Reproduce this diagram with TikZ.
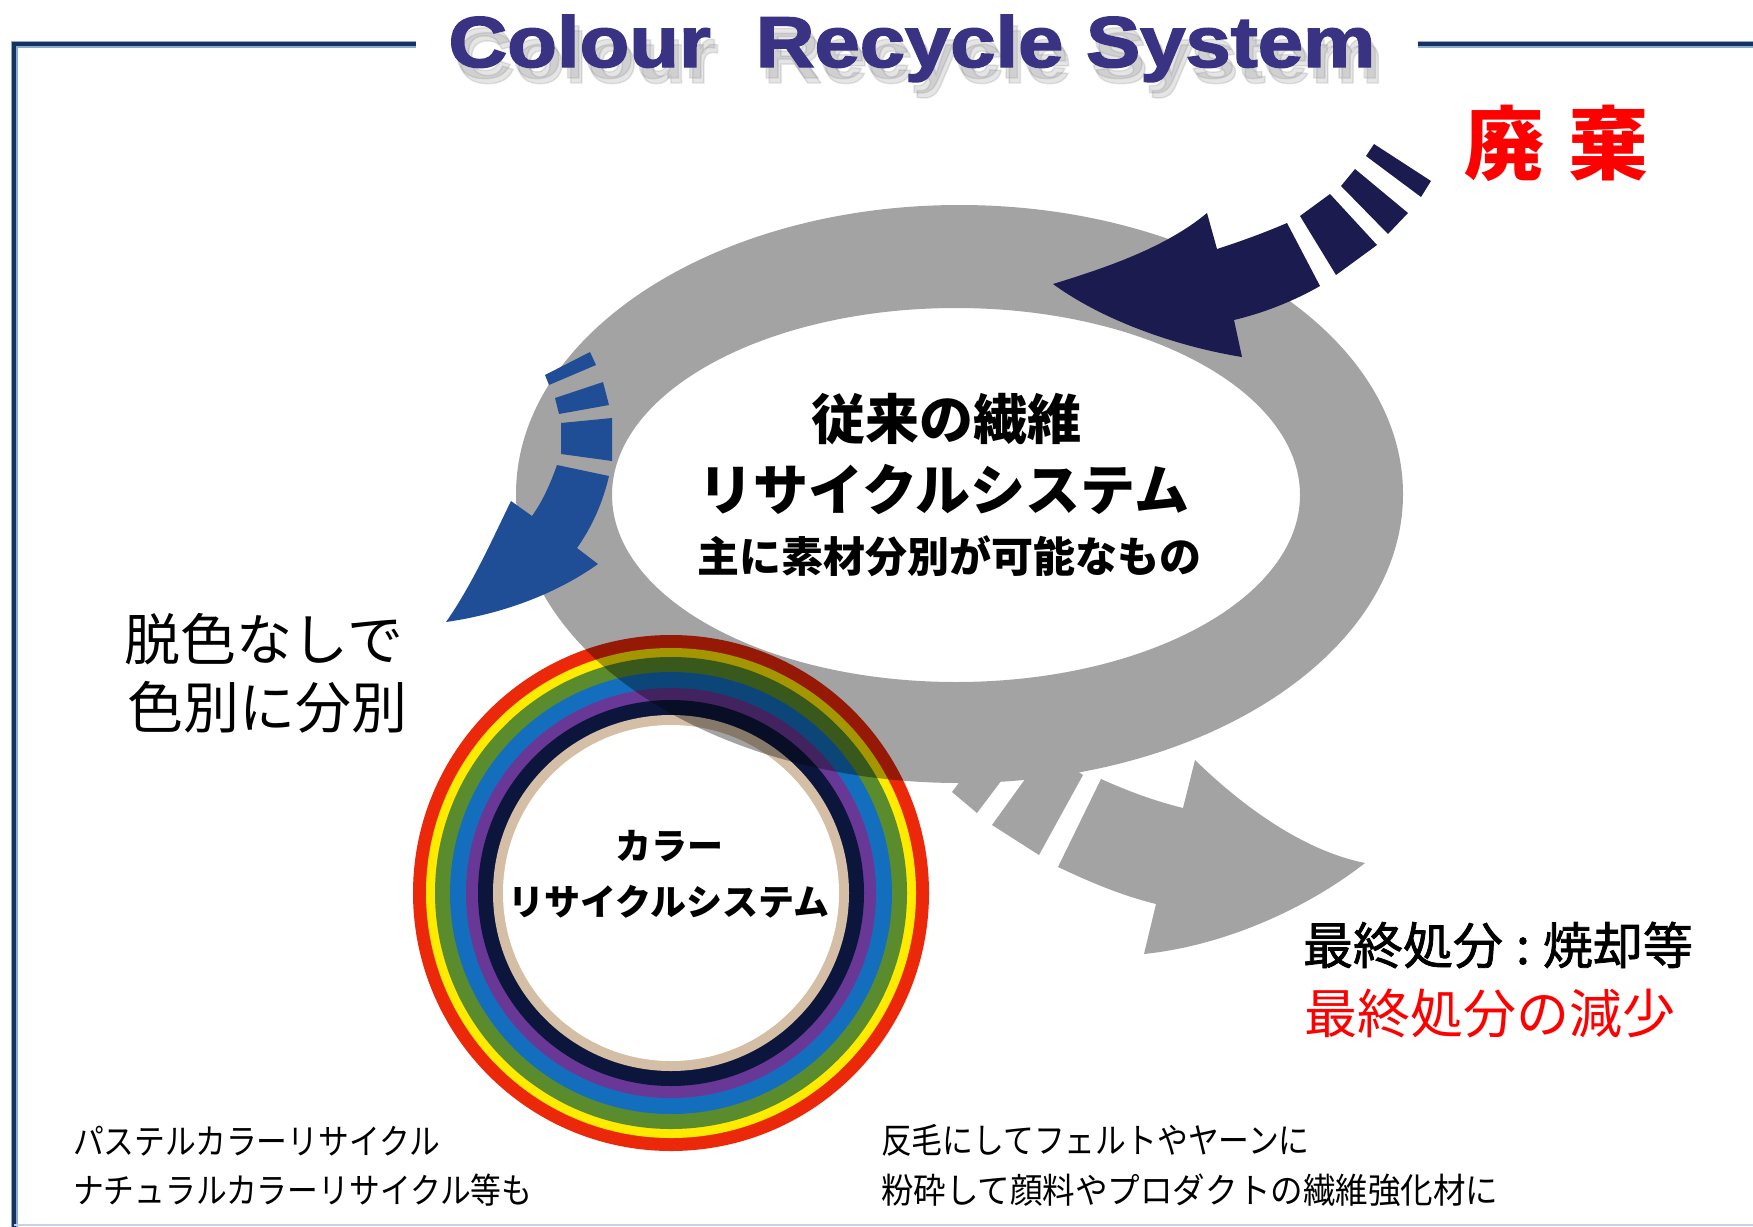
\documentclass[tikz,border=0pt]{standalone}
\usepackage{fontspec}
\newfontfamily\jp{Noto Sans CJK JP}
\newfontfamily\jpsemi[FakeBold=1.5]{Noto Sans CJK JP}
\newfontfamily\titlefont[FakeBold=2]{Liberation Sans}
\definecolor{navyarrow}{RGB}{27,27,80}
\definecolor{bluearrow}{RGB}{31,78,150}
\definecolor{ringgray}{RGB}{163,163,163}
\definecolor{titlecol}{RGB}{58,50,130}
\definecolor{framecol}{RGB}{22,50,95}
\definecolor{framelight}{RGB}{140,170,210}
\definecolor{rbred}{RGB}{236,40,10}
\definecolor{rbyellow}{RGB}{255,235,0}
\definecolor{rbgreen}{RGB}{90,140,45}
\definecolor{rbblue}{RGB}{20,110,190}
\definecolor{rbpurple}{RGB}{105,55,150}
\definecolor{rbnavy}{RGB}{12,22,60}
\definecolor{rbbeige}{RGB}{212,190,165}
\definecolor{jpred}{RGB}{255,0,0}
\tikzset{
  txt/.style={inner sep=0pt, outer sep=0pt},
  titlestyle/.style={txt, anchor=base, xscale=1.13,
    font={\titlefont\bfseries\fontsize{72}{80}\selectfont}},
  centerbold/.style={txt, font={\jp\bfseries\fontsize{#1}{#1}\selectfont}},
  plainjp/.style={txt, font={\jp\fontsize{#1}{#1}\selectfont}},
  semijp/.style={txt, font={\jpsemi\fontsize{#1}{#1}\selectfont}},
  smalljp/.style={txt, anchor=west, font={\jp\fontsize{35}{35}\selectfont}},
  frameline/.style={line width=7pt, framelight},
  frameinner/.style={line width=4pt, framecol},
}
\begin{document}
\begin{tikzpicture}[x=1pt,y=-1pt]
\useasboundingbox (0,0) rectangle (1753,1226);
\fill[white] (0,0) rectangle (1753,1226);

% frame
\draw[frameline] (416,44) -- (14,44) -- (14,1230);
\draw[frameline] (1418,44) -- (1753,44);
\draw[frameinner] (416,44) -- (14,44) -- (14,1230);
\draw[frameinner] (1418,44) -- (1753,44);
\draw[framelight!50, line width=2pt] (14,1225) -- (1753,1225);

% title shadow and title
\foreach \dx/\dy [count=\i] in {5/11,8/16} {
  \node[titlestyle, text=gray, opacity=0.2] (tshadow\i) at (912+\dx,67+\dy) {Colour\hspace{40pt}Recycle System};
}
\node[titlestyle, text=titlecol] (title) at (912,67) {Colour\hspace{40pt}Recycle System};

% rainbow ring
\coordinate (rc) at (671,893);
\fill[rbred] (rc) circle[radius=258pt];
\fill[rbyellow] (rc) circle[radius=245pt];
\fill[rbgreen] (rc) circle[radius=236pt];
\fill[rbblue] (rc) circle[radius=221pt];
\fill[rbpurple] (rc) circle[radius=205pt];
\fill[rbnavy] (rc) circle[radius=193pt];
\fill[rbbeige] (rc) circle[radius=178pt];
\fill[white] (rc) circle[radius=168pt];

% gray ring
\begin{scope}[blend mode=multiply]
\fill[ringgray, even odd rule] (959.5,494) ellipse [x radius=443.5pt, y radius=289pt]
  (956,495) ellipse [x radius=344pt, y radius=187pt];
\end{scope}

% gray outgoing arrow
\fill[ringgray] (1101,779) .. controls (1130,792) and (1155,801) .. (1183,808)
  -- (1195,760) .. controls (1238,802) and (1300,850) .. (1365,863)
  .. controls (1305,910) and (1222,946) .. (1144,954)
  -- (1156,904) .. controls (1120,895) and (1090,882) .. (1058,867) -- cycle;
\fill[ringgray] (1046,750) -- (1083,775) -- (1039,855) -- (992,825) -- cycle;
\fill[ringgray] (1004,723) -- (1032,740) -- (977,813) -- (952,792) -- cycle;
\fill[ringgray] (975,702) -- (1000,720) -- (945,778) -- (920,757) -- cycle;

% navy incoming arrow
\fill[navyarrow] (1053,284) .. controls (1105,268) and (1165,248) .. (1207,213)
  -- (1217,249) .. controls (1242,241) and (1266,232) .. (1287,223)
  -- (1320,286) .. controls (1292,302) and (1263,313) .. (1234,320)
  -- (1242,357) .. controls (1180,347) and (1105,322) .. (1053,284) -- cycle;
\fill[navyarrow] (1300,216) -- (1330,194) -- (1377,245) -- (1336,275) -- cycle;
\fill[navyarrow] (1341,186) -- (1355,169) -- (1408,213) -- (1388,234) -- cycle;
\fill[navyarrow] (1366,156) -- (1374,144) -- (1431,181) -- (1421,197) -- cycle;

% blue arrow
\fill[bluearrow] (557,465) .. controls (550,485) and (542,502) .. (532,516)
  -- (511,501) .. controls (492,540) and (472,585) .. (446,622)
  .. controls (502,614) and (556,594) .. (598,564)
  -- (577,548) .. controls (592,527) and (603,502) .. (609,476) -- cycle;
\fill[bluearrow] (561,423) -- (612,418) -- (612,461) -- (561,454) -- cycle;
\fill[bluearrow] (555,398) -- (603,382) -- (609,405) -- (559,414) -- cycle;
\fill[bluearrow] (545,375) -- (590,352) -- (596,365) -- (549,385) -- cycle;

% texts
\node[centerbold=80, text=jpred] (haiki) at (1556,143) {廃\hspace{24pt}棄};
\node[centerbold=54] (c1) at (946,419) {従来の繊維};
\node[centerbold=55] (c2) at (944,490) {リサイクルシステム};
\node[centerbold=42] (c3) at (949,556) {主に素材分別が可能なもの};
\node[centerbold=36] (r1) at (669,846) {カラー};
\node[centerbold=36] (r2) at (669,902) {リサイクルシステム};
\node[plainjp=56] (l1) at (264,639) {脱色なしで};
\node[plainjp=56] (l2) at (267,707) {色別に分別};
\node[semijp=50, anchor=west] (f1) at (1303,945) {最終処分\hspace{13pt}:\hspace{13pt}焼却等};
\node[plainjp=53, anchor=west, text=jpred] (f2) at (1304,1013) {最終処分の減少};
\node[smalljp, xscale=0.88] (b1) at (73,1141) {パステルカラーリサイクル};
\node[smalljp, xscale=0.88] (b2) at (73,1190) {ナチュラルカラーリサイクル等も};
\node[smalljp, xscale=0.88] (b3) at (881,1140) {反毛にしてフェルトやヤーンに};
\node[smalljp, xscale=0.93] (b4) at (881,1190) {粉砕して顔料やプロダクトの繊維強化材に};
\end{tikzpicture}
\end{document}
